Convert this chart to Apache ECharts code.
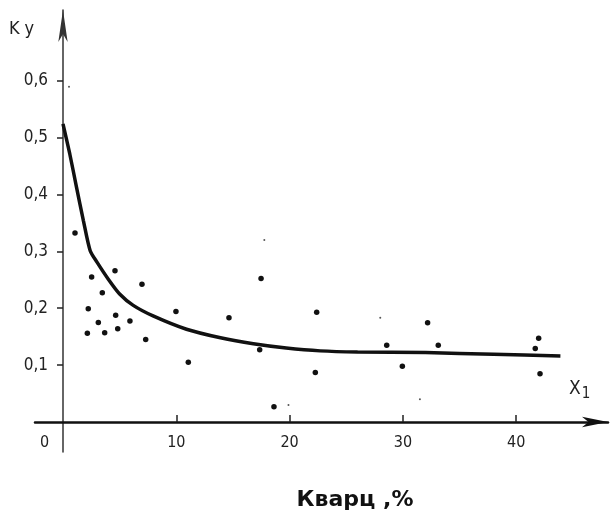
<!DOCTYPE html>
<html><head><meta charset="utf-8">
<script src="https://cdn.jsdelivr.net/npm/echarts@6/dist/echarts.min.js"></script>
<style>html,body{margin:0;padding:0;background:#fff}#c{width:610px;height:517px}</style>
</head><body><div id="c"></div>
<script>
// Scatter observations (Кварц, % -> Ky)
const pointX = [1.06, 2.53, 2.23, 2.15, 3.12, 3.47, 3.68, 4.59, 4.65, 4.83, 5.91, 6.97, 7.3, 9.97, 11.06, 14.65, 17.48, 17.36, 18.62, 22.39, 22.27, 28.57, 29.95, 32.18, 33.12, 41.98, 41.68, 42.1];
const pointY = [0.332, 0.255, 0.199, 0.156, 0.175, 0.227, 0.157, 0.266, 0.1875, 0.164, 0.1775, 0.242, 0.145, 0.194, 0.105, 0.183, 0.252, 0.127, 0.027, 0.193, 0.087, 0.135, 0.098, 0.1745, 0.135, 0.147, 0.129, 0.085];
// faint specks in the scan
const speckX = [0.53, 17.77, 19.9, 28.0, 31.5];
const speckY = [0.589, 0.32, 0.03, 0.183, 0.04];
// fitted curve
const curveX = [0, 0.6, 1.2, 1.8, 2.4, 3.0, 4.0, 5.0, 6.2, 8.0, 10.9, 13.9, 16.8, 19.7, 22.7, 26, 32, 38, 43.9];
const curveY = [0.524, 0.471, 0.412, 0.354, 0.301, 0.281, 0.251, 0.225, 0.205, 0.186, 0.163, 0.148, 0.1375, 0.130, 0.125, 0.123, 0.122, 0.119, 0.116];
// ticks
const xTickValues = [0, 10, 20, 30, 40];
const xTickMarks = [10, 20, 30, 40];
const yTickValues = [0.1, 0.2, 0.3, 0.4, 0.5, 0.6];
const yTickLabels = ['0,1', '0,2', '0,3', '0,4', '0,5', '0,6'];

const FONT = '"DejaVu Sans Condensed", "Liberation Sans Narrow", "DejaVu Sans", sans-serif';
const chart = echarts.init(document.getElementById('c'), null, {renderer: 'canvas'});
chart.setOption({
  animation: false,
  backgroundColor: '#fff',
  grid: {left: 35, right: 2, top: 10, bottom: 65, containLabel: false, outerBoundsMode: 'none'},
  xAxis: {
    type: 'value', min: -2.47, max: 48.1,
    splitLine: {show: false},
    axisLine: {onZero: true, lineStyle: {color: '#111', width: 2.5}, symbol: ['none', 'arrow'], symbolSize: [8, 26]},
    axisTick: {customValues: xTickMarks, inside: true, length: 7, lineStyle: {color: '#222', width: 1.5}},
    axisLabel: {
      customValues: xTickValues, margin: -17, fontSize: 16, fontFamily: FONT, color: '#222',
      formatter: v => v === 0 ? '{z|0}' : String(v),
      rich: {z: {padding: [0, 37, 0, 0], fontSize: 16, fontFamily: FONT, color: '#222'}}
    }
  },
  yAxis: {
    type: 'value', min: -0.0527, max: 0.724,
    splitLine: {show: false},
    axisLine: {onZero: true, lineStyle: {color: '#333', width: 1.5}, symbol: ['none', 'arrow'], symbolSize: [7, 32]},
    axisTick: {customValues: yTickValues, length: 6, lineStyle: {color: '#222', width: 1.5}},
    axisLabel: {
      customValues: yTickValues, margin: -13, fontSize: 17, fontFamily: FONT, color: '#222',
      formatter: v => yTickLabels[yTickValues.findIndex(t => Math.abs(t - v) < 1e-6)] || ''
    }
  },
  series: [
    {
      type: 'line', smooth: 0.25, showSymbol: false, symbol: 'none',
      lineStyle: {color: '#111', width: 3.5},
      data: curveX.map((x, i) => [x, curveY[i]]), z: 2
    },
    {
      type: 'scatter', symbolSize: 5.5, itemStyle: {color: '#111', opacity: 1},
      data: pointX.map((x, i) => [x, pointY[i]]), z: 3
    },
    {
      type: 'scatter', symbolSize: 2, itemStyle: {color: '#555', opacity: 1},
      data: speckX.map((x, i) => [x, speckY[i]]), z: 3
    }
  ],
  graphic: [
    {type: 'text', left: 9, top: 20, style: {
      text: '{a|K}{b|y}', rich: {a: {fontSize: 18, fontFamily: FONT, fill: '#222'}, b: {fontSize: 18, fontFamily: FONT, fill: '#222', padding: [0, 0, 0, 5]}}
    }},
    {type: 'text', left: 569, top: 380, style: {
      text: '{a|X}{s|1}', rich: {a: {fontSize: 19, fontFamily: FONT, fill: '#222'}, s: {fontSize: 15, fontFamily: FONT, fill: '#222', padding: [10, 0, 0, 1]}}
    }},
    {type: 'text', x: 355, y: 500, style: {
      text: 'Кварц ,%', align: 'center', verticalAlign: 'middle',
      font: 'bold 22px "DejaVu Sans", sans-serif', fill: '#111'
    }}
  ]
});
</script>
</body></html>
